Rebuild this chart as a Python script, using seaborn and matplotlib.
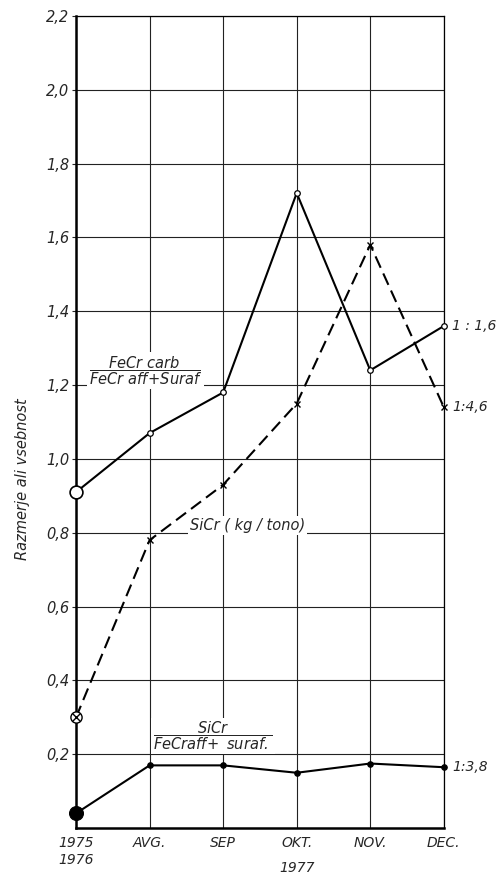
import matplotlib
matplotlib.use("Agg")
import matplotlib.pyplot as plt
import seaborn as sns

# data
months = ["1975\n1976", "AVG.", "SEP", "OKT.", "NOV.", "DEC."]
xpos = [0, 1, 2, 3, 4, 5]
fecr_carb = [0.91, 1.07, 1.18, 1.72, 1.24, 1.36]
sicr_kg = [0.30, 0.78, 0.93, 1.15, 1.58, 1.14]
sicr_ratio = [0.04, 0.17, 0.17, 0.15, 0.175, 0.165]
y_ticks = [0.2, 0.4, 0.6, 0.8, 1.0, 1.2, 1.4, 1.6, 1.8, 2.0, 2.2]
y_labels = ["0,2", "0,4", "0,6", "0,8", "1,0", "1,2", "1,4", "1,6", "1,8", "2,0", "2,2"]
end_labels = ["1 : 1,6", "1:4,6", "1:3,8"]

sns.set_style("white")
plt.rcParams["font.family"] = ["DejaVu Sans"]
plt.rcParams["font.style"] = "italic"
plt.rcParams["mathtext.fontset"] = "custom"
plt.rcParams["mathtext.rm"] = "DejaVu Sans:italic"
plt.rcParams["mathtext.it"] = "DejaVu Sans:italic"

fig = plt.figure(figsize=(4.97, 8.81), dpi=100)
ax = fig.add_axes([0.153, 0.060, 0.740, 0.922])

# lines
sns.lineplot(x=xpos, y=fecr_carb, ax=ax, color="k", lw=1.5, marker="o",
             markersize=4, markerfacecolor="white", markeredgecolor="k",
             markeredgewidth=0.9, zorder=4, clip_on=False)
sns.lineplot(x=xpos, y=sicr_kg, ax=ax, color="k", lw=1.5, marker="x",
             markersize=5, markeredgecolor="k", markeredgewidth=1.0,
             linestyle=(0, (6, 3)), zorder=4, clip_on=False)
sns.lineplot(x=xpos, y=sicr_ratio, ax=ax, color="k", lw=1.5, marker="o",
             markersize=4, markerfacecolor="k", markeredgecolor="k", zorder=4,
             clip_on=False)

# emphasised starting points
sns.scatterplot(x=xpos[:1], y=fecr_carb[:1], ax=ax, s=85, facecolor="white",
                edgecolor="k", linewidth=1.2, zorder=5, clip_on=False)
sns.scatterplot(x=xpos[:1], y=sicr_kg[:1], ax=ax, s=65, facecolor="white",
                edgecolor="k", linewidth=1.0, zorder=5, clip_on=False)
sns.scatterplot(x=xpos[:1], y=sicr_kg[:1], ax=ax, s=30, marker="x",
                color="k", linewidth=1.0, zorder=6, clip_on=False)
sns.scatterplot(x=xpos[:1], y=sicr_ratio[:1], ax=ax, s=100, color="k",
                edgecolor="k", zorder=5, clip_on=False)

# axes
ax.set_xlim(0, 5)
ax.set_ylim(0, 2.2)
ax.set_xticks(xpos)
ax.set_xticklabels(months, fontsize=10)
ax.set_yticks(y_ticks)
ax.set_yticklabels(y_labels, fontsize=10.5)
ax.tick_params(axis="x", length=0, pad=6)
ax.tick_params(axis="y", length=3, width=0.8, direction="out", pad=2, left=True)
ax.set_axisbelow(True)
ax.grid(True, color="#222222", lw=0.8)
for side in ["left", "bottom"]:
    ax.spines[side].set_linewidth(1.8)
for side in ["top", "right"]:
    ax.spines[side].set_linewidth(0.9)
for sp in ax.spines.values():
    sp.set_color("k")

ax.set_ylabel("Razmerje ali vsebnost", fontsize=10.5)
ax.yaxis.set_label_coords(-0.125, 0.43)
ax.set_xlabel("1977", fontsize=10)
ax.xaxis.set_label_coords(0.6, -0.041)

# annotations
box = dict(facecolor="white", edgecolor="none", pad=1.5)
ax.text(0.17, 1.24, r"$\dfrac{\mathrm{FeCr\ carb}}{\mathrm{FeCr\ aff\!+\!Suraf}}$",
        fontsize=10.5, va="center", ha="left", bbox=box, zorder=3)
ax.text(1.55, 0.82, "SiCr ( kg / tono)", fontsize=10.5, va="center",
        ha="left", bbox=box, zorder=3)
ax.text(1.05, 0.25, r"$\dfrac{\mathrm{SiCr}}{\mathrm{FeCraff\!+\ suraf.}}$",
        fontsize=10.5, va="center", ha="left", bbox=box, zorder=3)

for series, lab in zip([fecr_carb, sicr_kg, sicr_ratio], end_labels):
    ax.annotate(lab, xy=(xpos[-1], series[-1]), xytext=(6, 0),
                textcoords="offset points", va="center", ha="left",
                fontsize=10, annotation_clip=False)

fig.savefig("out.png", dpi=100)
